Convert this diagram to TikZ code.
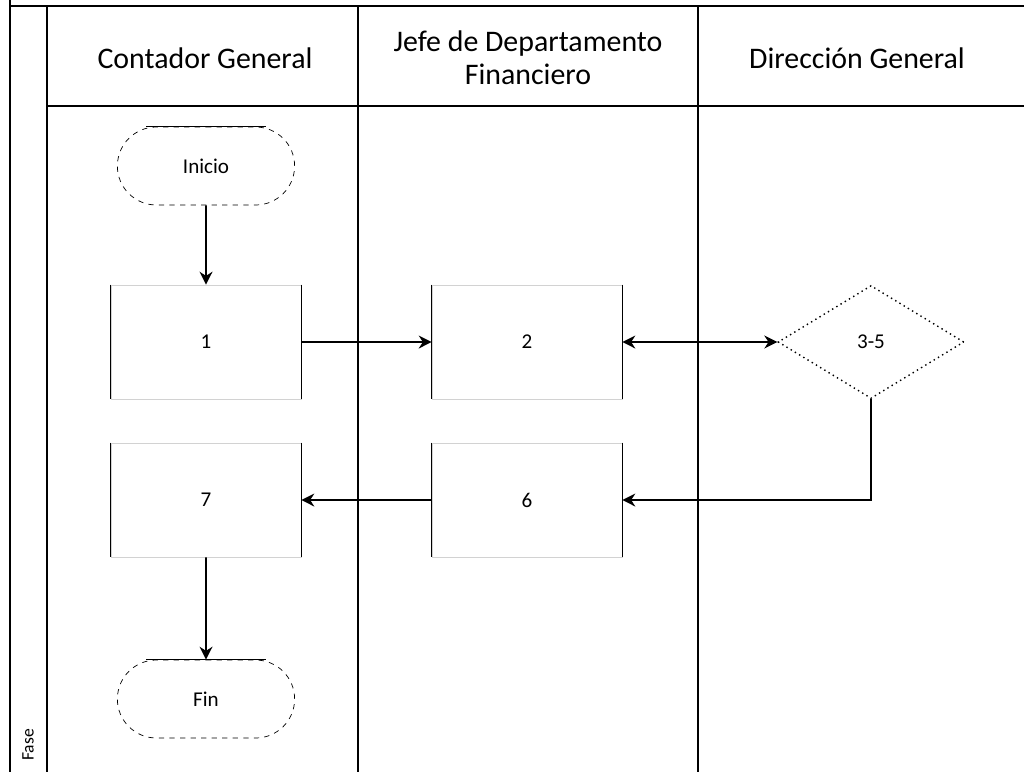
\documentclass[tikz,border=0pt]{standalone}
\usepackage{fontspec}
\setmainfont{Carlito}
\usetikzlibrary{shapes.geometric,shapes.misc,arrows.meta}

\tikzset{
    carril/.style={line width=1pt},
    titulo/.style={font=\fontsize{17}{19}\selectfont,align=center},
    proceso/.style={rectangle,draw=gray!35,minimum width=3.8cm,minimum height=2.28cm,font=\fontsize{12}{14}\selectfont},
    terminal/.style={rounded rectangle,draw,dashed,minimum width=3.78cm,minimum height=1.56cm,font=\fontsize{12}{14}\selectfont},
    decision/.style={diamond,draw,dotted,thick,inner sep=0pt,minimum width=3.72cm,minimum height=2.26cm,font=\fontsize{12}{14}\selectfont},
    flecha/.style={line width=1pt,-{Stealth[length=2.6mm,width=2.6mm]}},
    doble/.style={line width=1pt,{Stealth[length=2.6mm,width=2.6mm]}-{Stealth[length=2.6mm,width=2.6mm]}}
}

\begin{document}
\begin{tikzpicture}[x=0.02cm,y=-0.02cm]
        \useasboundingbox (0,0) rectangle (1024,772);

        % carriles
        \draw[carril] (10,0) -- (10,772);
        \draw[carril] (47,6) -- (47,772);
        \draw[carril] (10,6) -- (1024,6);
        \draw[carril] (47,106) -- (1024,106);
        \draw[carril] (358,6) -- (358,772);
        \draw[carril] (698,6) -- (698,772);

        \node[titulo] (contador) at (205,58) {Contador General};
        \node[titulo] (jefe) at (528,58) {Jefe de Departamento\\Financiero};
        \node[titulo] (direccion) at (857,58) {Dirección General};
        \node[rotate=90,font=\fontsize{10}{12}\selectfont] (fase) at (28,745) {Fase};

        % pasos
        \node[terminal] (inicio) at (206,166) {Inicio};
        \node[proceso] (p1) at (206,342) {1};
        \node[proceso] (p2) at (527,342) {2};
        \node[decision] (d35) at (871,342) {3-5};
        \node[proceso] (p6) at (527,500) {6};
        \node[proceso] (p7) at (206,500) {7};
        \node[terminal] (fin) at (206,699) {Fin};

        \foreach \n in {p1,p2,p6,p7} {
            \draw (\n.north west) -- (\n.south west);
            \draw (\n.north east) -- (\n.south east);
        }
        \foreach \n in {inicio,fin}
            \draw ([xshift=-1.2cm]\n.north) -- ([xshift=1.2cm]\n.north);

        % flujo
        \draw[flecha] (inicio) -- (p1);
        \draw[flecha] (p1) -- (p2);
        \draw[doble] (p2) -- (d35);
        \draw[flecha] (d35.south) |- (p6.east);
        \draw[flecha] (p6) -- (p7);
        \draw[flecha] (p7) -- (fin);
    \end{tikzpicture}
\end{document}
